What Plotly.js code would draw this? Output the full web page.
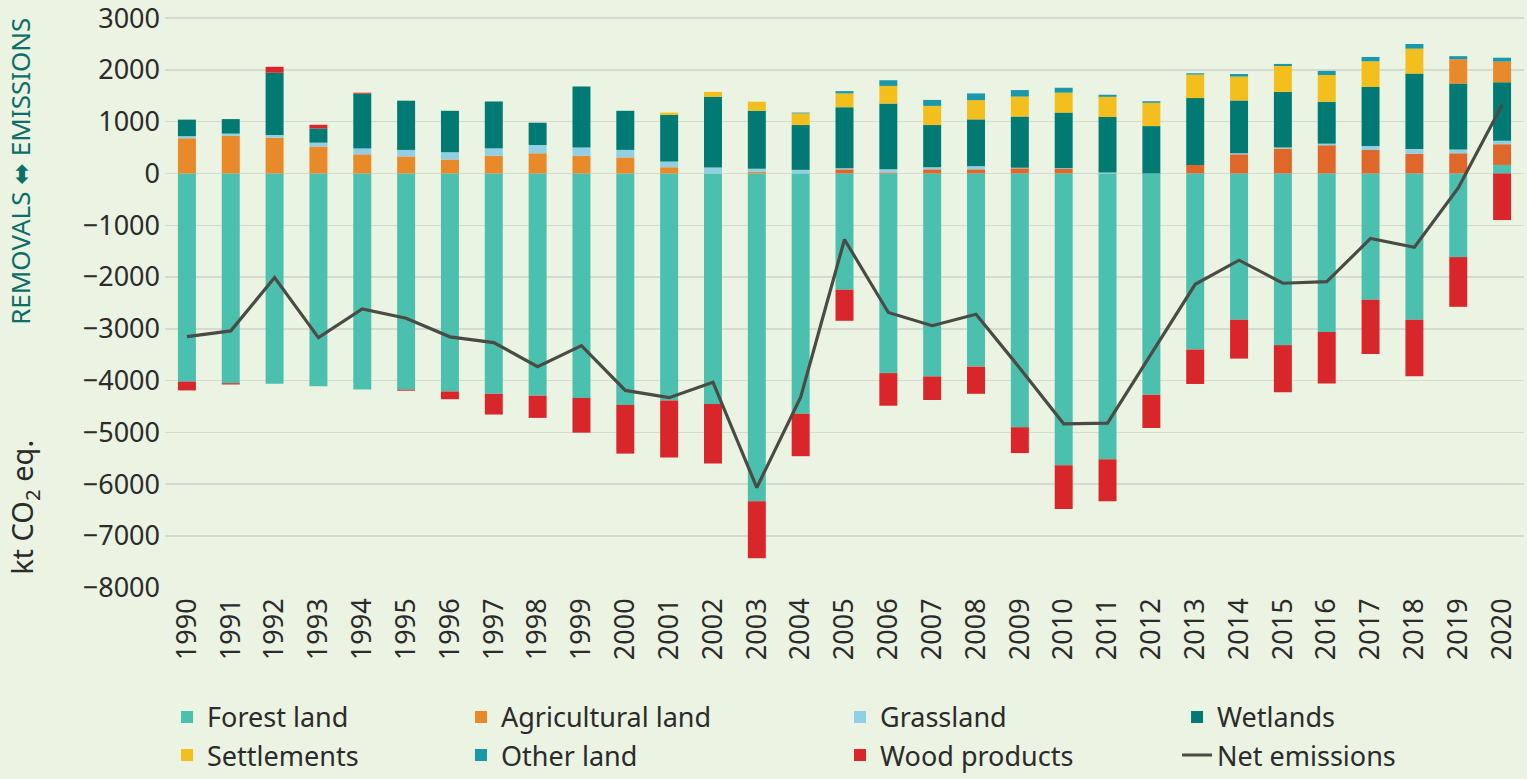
<!DOCTYPE html>
<html>
<head>
<meta charset="utf-8">
<script src="https://cdn.plot.ly/plotly-3.0.1.min.js"></script>
<style>
  html, body { margin: 0; padding: 0; background: #ebf3e3; }
  #chart { width: 1527px; height: 779px; }
</style>
</head>
<body>
<div id="chart"></div>
<script>
// ---- Data (kt CO2 eq.) ----
const years = ["1990","1991","1992","1993","1994","1995","1996","1997","1998","1999",
               "2000","2001","2002","2003","2004","2005","2006","2007","2008","2009",
               "2010","2011","2012","2013","2014","2015","2016","2017","2018","2019","2020"];

const forestLand = [-4020,-4050,-4060,-4110,-4170,-4175,-4210,-4255,-4290,-4335,
                    -4470,-4385,-4450,-6330,-4640,-2245,-3855,-3920,-3730,-4900,
                    -5635,-5520,-4275,-3400,-2825,-3315,-3060,-2440,-2825,-1615,165];

const agriculturalLand = [680,725,690,520,370,330,270,345,390,345,
                          310,120,0,30,0,80,20,80,80,100,
                          90,0,0,165,370,480,545,455,380,390,400];

const grassland = [40,45,55,75,110,125,140,140,160,155,
                   145,110,115,60,70,20,60,40,60,10,
                   10,20,0,0,20,20,30,75,90,75,65];

const wetlands = [320,280,1200,275,1060,950,800,905,430,1180,
                  755,900,1365,1120,865,1180,1270,815,905,990,
                  1075,1070,915,1290,1020,1075,810,1140,1460,1270,1130];

const settlements = [0,0,0,0,0,0,0,0,0,0,
                     0,45,95,175,225,265,340,370,370,385,
                     385,390,450,455,460,500,515,495,480,470,400];

const otherLand = [0,0,0,0,0,0,0,0,0,0,
                   0,0,0,0,15,45,110,115,130,125,
                   95,40,30,25,50,40,80,85,90,60,75];

const woodProducts = [-170,-25,115,70,20,-20,-150,-400,-430,-670,
                      -940,-1100,-1150,-1100,-820,-600,-630,-455,-525,-500,
                      -845,-810,-640,-665,-750,-910,-995,-1045,-1090,-960,-900];

const netEmissions = [-3150,-3040,-2010,-3170,-2615,-2795,-3155,-3265,-3730,-3325,
                      -4190,-4330,-4030,-6065,-4320,-1275,-2685,-2940,-2720,-3760,
                      -4835,-4820,-3480,-2140,-1675,-2120,-2090,-1255,-1425,-280,1320];

const yTicks = [3000,2000,1000,0,-1000,-2000,-3000,-4000,-5000,-6000,-7000,-8000];

// ---- Styles ----
const C = {
  forest: "#4cc0ae",
  agri: "#e8892a",
  agriLate: "#e0672a",
  grass: "#8fd0e4",
  wet: "#007a73",
  settle: "#f2bf1c",
  other: "#1a97a8",
  wood: "#d9262a",
  net: "#4b4b45",
  bg: "#ebf3e3",
  grid: "#d5dbd0",
  text: "#2b2b2b",
  title: "#0b6e69"
};
const FONT = "'Noto Sans', 'DejaVu Sans', sans-serif";

const agriColors = years.map(y => (+y >= 2005 ? C.agriLate : C.agri));
const settleColors = years.map(y => (+y >= 2019 ? C.agri : C.settle));

function barTrace(name, values, color, legendId) {
  return {
    type: "bar", name: name, x: years, y: values, legend: legendId,
    marker: { color: color, line: { width: 0 } },
    hoverinfo: "x+y+name"
  };
}

const traces = [
  barTrace("Forest land", forestLand, C.forest, "legend"),
  barTrace("Agricultural land", agriculturalLand, agriColors, "legend2"),
  barTrace("Grassland", grassland, C.grass, "legend3"),
  barTrace("Wetlands", wetlands, C.wet, "legend4"),
  barTrace("Settlements", settlements, settleColors, "legend"),
  barTrace("Other land", otherLand, C.other, "legend2"),
  barTrace("Wood products", woodProducts, C.wood, "legend3"),
  {
    type: "scatter", mode: "lines", name: "Net emissions", legend: "legend4",
    x: years, y: netEmissions,
    line: { color: C.net, width: 3.2 }
  }
];

function legendAt(xPaper) {
  return {
    orientation: "v",
    x: xPaper, xanchor: "left",
    y: -0.183, yanchor: "top",
    font: { family: FONT, size: 27, color: C.text },
    bgcolor: "rgba(0,0,0,0)",
    traceorder: "normal",
    tracegroupgap: 0,
    itemclick: false, itemdoubleclick: false
  };
}

const layout = {
  width: 1527, height: 779,
  margin: { l: 165, r: 3, t: 15, b: 191, pad: 0, autoexpand: false },
  paper_bgcolor: C.bg, plot_bgcolor: C.bg,
  barmode: "relative",
  bargap: 0.59,
  font: { family: FONT, color: C.text, size: 27 },
  showlegend: true,
  legend: legendAt(0.0015),
  legend2: legendAt(0.2178),
  legend3: legendAt(0.4967),
  legend4: legendAt(0.7447),
  xaxis: {
    type: "category", automargin: false,
    tickangle: -90,
    tickfont: { family: FONT, size: 27, color: C.text },
    showgrid: false, zeroline: false, showline: false, ticks: "",
    ticklabelstandoff: 4
  },
  yaxis: {
    automargin: false,
    range: [-8005, 3060],
    tickmode: "array",
    tickvals: yTicks,
    ticklabeloverflow: "allow",
    tickfont: { family: FONT, size: 27, color: C.text },
    showgrid: true, gridcolor: C.grid, gridwidth: 1.5,
    zeroline: false, showline: false, ticks: "",
    ticklabelstandoff: 4
  },
  annotations: [
    {
      xref: "paper", yref: "paper",
      x: -0.1067, y: 0.728, xanchor: "center", yanchor: "middle",
      textangle: -90, showarrow: false,
      text: "REMOVALS \u2B0C EMISSIONS",
      font: { family: FONT, size: 26, color: C.title }
    },
    {
      xref: "paper", yref: "paper",
      x: -0.104, y: 0.141, xanchor: "center", yanchor: "middle",
      textangle: -90, showarrow: false,
      text: "kt CO<sub>2</sub> eq.",
      font: { family: FONT, size: 29, color: C.text }
    }
  ]
};

Plotly.newPlot("chart", traces, layout, { displayModeBar: false, staticPlot: true });
</script>
</body>
</html>
